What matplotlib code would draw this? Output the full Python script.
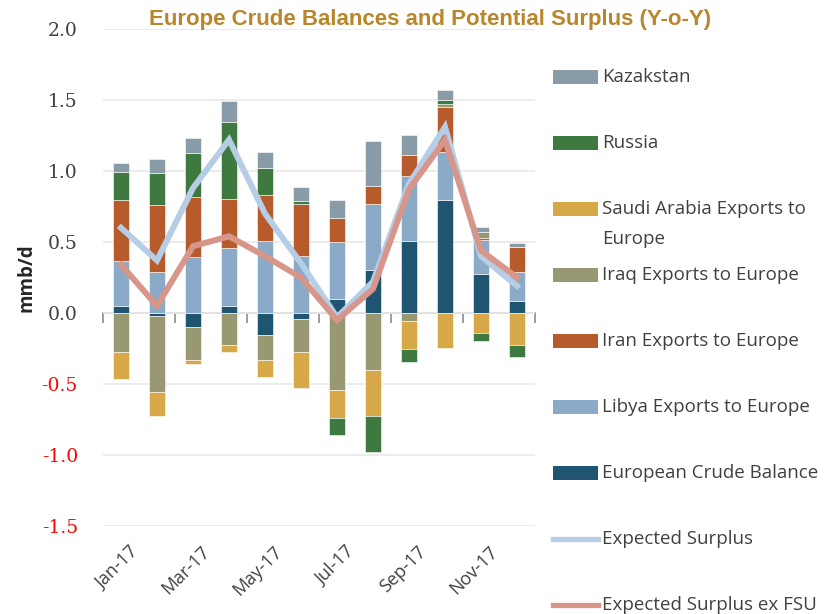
import numpy as np
import matplotlib.pyplot as plt
import matplotlib.transforms as mtransforms
from matplotlib.patches import Rectangle
from matplotlib.lines import Line2D

months = ['Jan-17', 'Feb-17', 'Mar-17', 'Apr-17', 'May-17', 'Jun-17',
          'Jul-17', 'Aug-17', 'Sep-17', 'Oct-17', 'Nov-17', 'Dec-17']

# stacked series, in stacking order (bottom first)
european = [0.047, -0.019, -0.10, 0.052, -0.155, -0.04, 0.10, 0.305, 0.509, 0.798, 0.275, 0.087]
libya = [0.32, 0.286, 0.397, 0.403, 0.509, 0.40, 0.40, 0.463, 0.453, 0.333, 0.239, 0.199]
iran = [0.427, 0.475, 0.422, 0.348, 0.324, 0.368, 0.17, 0.124, 0.153, 0.32, 0.016, 0.181]
iraq = [-0.272, -0.537, -0.228, -0.223, -0.174, -0.232, -0.54, -0.404, -0.054, 0.02, 0.04, 0.0]
saudi = [-0.193, -0.169, -0.03, -0.049, -0.124, -0.256, -0.2, -0.324, -0.2, -0.249, -0.141, -0.223]
russia = [0.20, 0.225, 0.305, 0.54, 0.186, 0.021, -0.118, -0.251, -0.093, 0.026, -0.059, -0.087]
kazakstan = [0.063, 0.10, 0.108, 0.148, 0.112, 0.099, 0.129, 0.322, 0.141, 0.07, 0.033, 0.028]

# lines
surplus = [0.60, 0.37, 0.88, 1.22, 0.70, 0.35, -0.03, 0.22, 0.91, 1.31, 0.40, 0.19]
surplus_ex_fsu = [0.34, 0.05, 0.47, 0.54, 0.40, 0.25, -0.05, 0.17, 0.87, 1.22, 0.44, 0.25]

bar_series = [
    ('European Crude Balance', european, '#1F5571'),
    ('Libya Exports to Europe', libya, '#8AAAC7'),
    ('Iran Exports to Europe', iran, '#B75A2C'),
    ('Iraq Exports to Europe', iraq, '#989873'),
    ('Saudi Arabia Exports to\nEurope', saudi, '#D6A848'),
    ('Russia', russia, '#3E7A40'),
    ('Kazakstan', kazakstan, '#8A9BA8'),
]
line_series = [
    ('Expected Surplus', surplus, '#B5CDE5'),
    ('Expected Surplus ex FSU', surplus_ex_fsu, '#D8968A'),
]

W, H = 836, 614
fig = plt.figure(figsize=(W / 100, H / 100), dpi=100)
ax = fig.add_axes([103 / W, 1 - 526 / H, 432 / W, 497 / H])

x = np.arange(len(months))
pos_bottom = np.zeros(len(months))
neg_bottom = np.zeros(len(months))
for name, vals, color in bar_series:
    v = np.array(vals)
    bottom = np.where(v >= 0, pos_bottom, neg_bottom)
    ax.bar(x, v, width=0.42, bottom=bottom, color=color,
           edgecolor='white', linewidth=0.4, zorder=2)
    pos_bottom += np.clip(v, 0, None)
    neg_bottom += np.clip(v, None, 0)

for name, vals, color in line_series:
    ax.plot(x, vals, color=color, linewidth=4.3, solid_joinstyle='miter', zorder=3)

ax.set_xlim(-0.5, len(months) - 0.5)
ax.set_ylim(-1.5, 2.0)
yt = np.arange(-1.5, 2.01, 0.5)
ax.set_yticks(yt)
ax.set_yticklabels([f'{v:.1f}' for v in yt], fontfamily='DejaVu Serif', fontsize=13.5)
for lab, v in zip(ax.get_yticklabels(), yt):
    lab.set_color('#FF0000' if v < 0 else '#404040')
ax.tick_params(axis='y', length=0, pad=18)
ax.grid(axis='y', color='#EAEAEA', linewidth=1.3, zorder=0)
for s in ax.spines.values():
    s.set_visible(False)

# month labels at the bottom
ax.set_xticks(x[::2])
ax.set_xticklabels(months[::2], rotation=45, ha='right', rotation_mode='anchor',
                   fontfamily='Open Sans', fontsize=13, color='#404040')
ax.tick_params(axis='x', length=0, pad=12)
shift = mtransforms.ScaledTranslation(8 / 100, 0, fig.dpi_scale_trans)
for lab in ax.get_xticklabels():
    lab.set_transform(lab.get_transform() + shift)

# zero axis with category-boundary ticks
sec = ax.secondary_xaxis(1.5 / 3.5)
sec.set_xticks(np.arange(-0.5, len(months), 2))
sec.set_xticklabels([])
sec.tick_params(length=7, color='#8C8C8C', width=1.2)
sec.spines['bottom'].set_color('#8C8C8C')
sec.spines['bottom'].set_linewidth(1.2)

ax.set_ylabel('mmb/d', fontfamily='Open Sans', fontsize=13.5, fontweight='bold',
              color='#262626')
ax.yaxis.set_label_coords(-0.155, 0.5)

fig.text(430 / W, 1 - 19 / H, 'Europe Crude Balances and Potential Surplus (Y-o-Y)',
         ha='center', va='center', fontsize=16, fontweight='bold', color='#B8862B',
         fontfamily=['Liberation Sans Narrow', 'Liberation Sans'])

# legend drawn by hand, Excel style (top entry = last series)
def fx(px):
    return px / W

def fy(py):
    return 1 - py / H

entries = [(n, c, 'patch') for n, v, c in bar_series[::-1]] + \
          [(n, c, 'line') for n, v, c in line_series]
for i, (name, color, kind) in enumerate(entries):
    yc = 77 + 66 * i
    if kind == 'patch':
        fig.add_artist(Rectangle((fx(553), fy(yc + 7)), 45 / W, 14 / H,
                                 transform=fig.transFigure, facecolor=color,
                                 edgecolor='none'))
    else:
        fig.add_artist(Line2D([fx(553), fx(598)], [fy(yc), fy(yc)],
                              transform=fig.transFigure, color=color, linewidth=3.8))
    for j, line in enumerate(name.split('\n')):
        fig.text(fx(602), fy(yc + 30 * j), line, ha='left', va='center',
                 fontfamily='Open Sans', fontsize=13.5, color='#404040')

fig.savefig('out.png', dpi=100)
